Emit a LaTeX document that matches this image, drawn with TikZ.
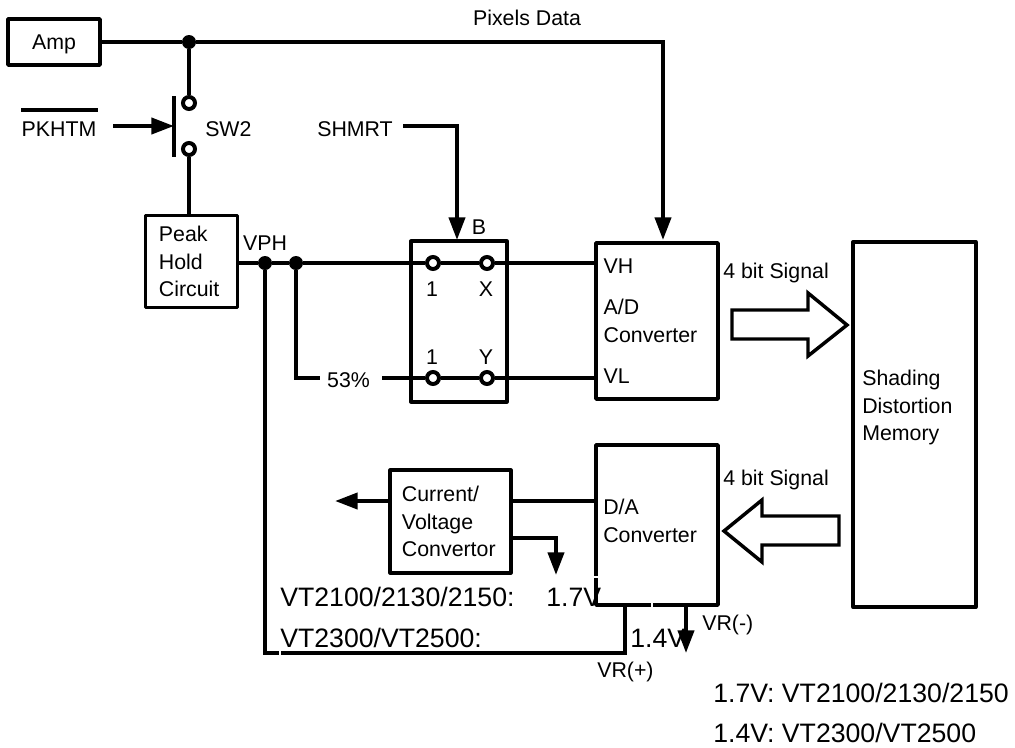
\documentclass[tikz,border=0pt]{standalone}
\usepackage{fontspec}
\setmainfont{Liberation Sans}
\usetikzlibrary{arrows.meta}

\tikzset{
  blockbox/.style={draw, line width=2.6pt, line join=round, inner sep=0pt},
  wire/.style={line width=3pt},
  signal/.style={wire, -{Triangle[length=17pt,width=12pt]}},
  tag/.style={inner sep=0pt, font=\fontsize{16}{20.6}\selectfont, align=left},
  bigtag/.style={inner sep=0pt, font=\fontsize{20}{24}\selectfont},
  junct/.style={circle, fill, inner sep=0pt, minimum size=10.5pt},
  pin/.style={circle, draw, fill=white, line width=3pt, inner sep=0pt, minimum size=9pt},
  fatarrow/.style={line width=2.6pt, line join=miter, fill=white}
}

\begin{document}
\begin{tikzpicture}[x=0.75pt,y=-0.75pt]

\useasboundingbox (0,0) rectangle (1015,747);

% --- Blocks ---
\node[blockbox, tag, minimum width=69pt, minimum height=34.5pt, text depth=0pt, text height=11.5pt] (amp) at (54,42) {Amp};
\node[blockbox, tag, minimum width=69pt, minimum height=69pt, text width=48.8pt] (peak) at (191.5,261.5) {Peak\\Hold\\Circuit};
\node[blockbox, minimum width=72pt, minimum height=120.5pt] (mux) at (459,321.5) {};
\node[blockbox, tag, minimum width=91.5pt, minimum height=117pt, text width=80pt] (adc) at (657,321) {VH\\[10.5pt]A/D\\Converter\\[10pt]VL};
\node[blockbox, minimum width=91.5pt, minimum height=120pt] (dac) at (657,525) {};
\node[blockbox, minimum width=92pt, minimum height=274pt] (mem) at (914.5,424.5) {};
\node[blockbox, tag, minimum width=90.5pt, minimum height=77pt, text width=72.8pt] (conv) at (450.5,521.5) {Current/\\Voltage\\Convertor};

% --- Text inside blocks ---
\node[tag, anchor=west] (dactext) at (603,521) {D/A\\Converter};
\node[tag, anchor=west] (memtext) at (862,407.5) {Shading\\Distortion\\Memory};

% --- Top wire ---
\coordinate (adctop) at (663,240);
\node[junct] (ampjoin) at (189,42) {};
\draw[wire] (amp.east) -- (ampjoin);
\draw[signal] (ampjoin) -| (adctop);
\node[tag] (pixels) at (527,18) {Pixels Data};

% --- SW2 ---
\node[pin] (swtop) at (189,103) {};
\node[pin] (swbot) at (189,149) {};
\coordinate (barhigh) at (174,96);
\coordinate (barlow) at (174,157);
\coordinate (barmid) at (174,126);
\coordinate (pkstart) at (113,126);
\draw[wire] (ampjoin) -- (swtop);
\draw[wire] (swbot) -- (189,215);
\draw[wire] (barhigh) -- (barlow);
\draw[signal] (pkstart) -- (barmid);
\node[tag] (pkhtm) at (59,129) {PKHTM};
\draw[line width=3pt] (21,110) -- (98,110);
\node[tag, anchor=west] (swlabel) at (205,129) {SW2};

% --- SHMRT ---
\node[tag] (shmrt) at (355,129) {SHMRT};
\coordinate (shstart) at (403,126);
\draw[signal] (shstart) -| (457,240);
\node[tag] (blabel) at (479,227) {B};

% --- Peak hold outputs ---
\node[tag] (vph) at (265,243) {VPH};
\node[junct] (join1) at (265,263) {};
\node[junct] (join2) at (296,263) {};
\node[pin] (pinA) at (433,263) {};
\node[pin] (pinX) at (487,263) {};
\node[pin] (pinB) at (433,378) {};
\node[pin] (pinY) at (487,378) {};
\coordinate (peakout) at (peak.east |- join1);
\coordinate (adchigh) at (adc.west |- pinX);
\coordinate (adclow) at (adc.west |- pinY);
\node[tag] (pct) at (348.5,380) {53\%};
\coordinate (pctleft) at (320,378);
\coordinate (pctright) at (382,378);
\draw[wire] (peakout) -- (join1) -- (join2) -- (pinA) -- (pinX) -- (adchigh);
\draw[line width=2.4pt] (join2) |- (pctleft);
\draw[wire] (pctright) -- (pinB) -- (pinY) -- (adclow);
\node[tag] (one1) at (432,289) {1};
\node[tag] (xlabel) at (486,289) {X};
\node[tag] (one2) at (432,357) {1};
\node[tag] (ylabel) at (486,357) {Y};

% --- Fat arrows ---
\draw[fatarrow] (732,310) -- (808,310) -- (808,293) -- (847,325) -- (808,356) -- (808,339) -- (732,339) -- cycle;
\draw[fatarrow] (839,516) -- (762,516) -- (762,500) -- (724,531) -- (762,562) -- (762,545) -- (839,545) -- cycle;
\node[tag, anchor=west] (sigtop) at (723,273) {4 bit Signal};
\node[tag, anchor=west] (sigbot) at (723,480) {4 bit Signal};

% --- Converter outputs ---
\coordinate (conveast) at (conv.east |- 0,501);
\coordinate (convwest) at (conv.west |- 0,501);
\coordinate (dacwest) at (dac.west |- 0,501);
\coordinate (leftend) at (335,501);
\coordinate (tapstart) at (conv.east |- 0,538);
\coordinate (tapend) at (556,575);
\draw[wire] (dacwest) -- (conveast);
\draw[signal] (convwest) -- (leftend);
\draw[signal] (tapstart) -| (tapend);

% --- Text lines ---
\node[bigtag, anchor=west] (volta) at (280,597) {VT2100/2130/2150:};
\node[bigtag, anchor=west] (voltb) at (546,597) {1.7V};
\node[bigtag, anchor=west] (voltc) at (280,638) {VT2300/VT2500:};
\node[bigtag, anchor=west] (voltd) at (630,638) {1.4V};
\node[tag, anchor=west] (vrp) at (597,672) {VR(+)};
\node[tag, anchor=west] (vrm) at (702,625) {VR(-)};
\node[bigtag, anchor=west] (notea) at (713,693) {1.7V: VT2100/2130/2150};
\node[bigtag, anchor=west] (noteb) at (713,733) {1.4V: VT2300/VT2500};

% --- Feedback and VR ---
\coordinate (vrplus) at (625,605);
\coordinate (vrminus) at (686,605);
\coordinate (vrend) at (686,653);
\draw[wire] (join1) |- (vrplus |- 0,653) -- (vrplus);
\draw[signal] (vrminus) -- (vrend);

% small white ticks
\fill[white] (278.5,650) rectangle (280.5,656);
\fill[white] (651,602) rectangle (653,608);
\fill[white] (593,576) rectangle (599,578);

\end{tikzpicture}
\end{document}
